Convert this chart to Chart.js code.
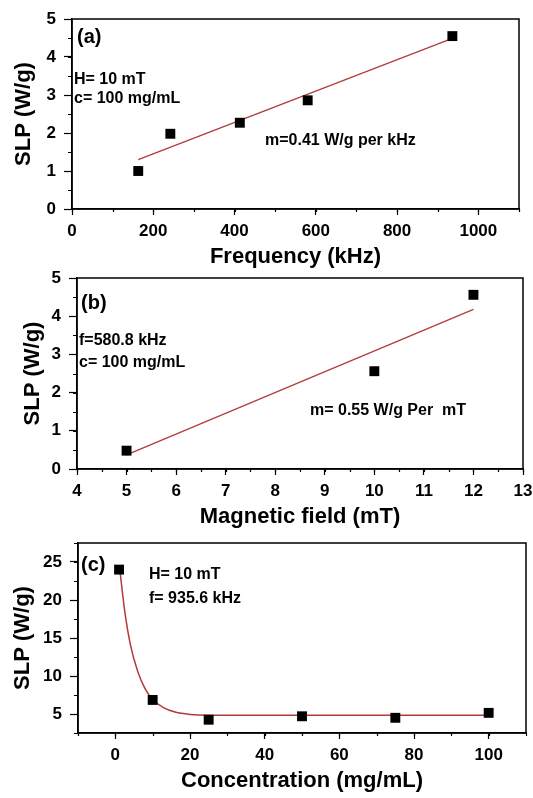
<!DOCTYPE html>
<html>
<head>
<meta charset="utf-8">
<script src="https://cdn.jsdelivr.net/npm/chart.js@4/dist/chart.umd.min.js"></script>
<style>
  html, body { margin: 0; padding: 0; background: #fff; }
  #wrap { position: relative; width: 533px; height: 798px; }
  #wrap canvas { position: absolute; left: 0; }
</style>
</head>
<body>
<div id="wrap">
  <canvas id="chartA" width="533" height="270" style="top:0px"></canvas>
  <canvas id="chartB" width="533" height="262" style="top:268px"></canvas>
  <canvas id="chartC" width="533" height="268" style="top:530px"></canvas>
</div>
<script>
// (a) SLP vs frequency
const freqKHz = [163, 242, 413, 580, 936];
const slpFreq = [1.0, 1.98, 2.27, 2.86, 4.55];
const freqFitX = [163, 936];
const freqFitY = [1.30, 4.49];
const freqTicks = [0, 200, 400, 600, 800, 1000];
const slpTicksA = [0, 1, 2, 3, 4, 5];

// (b) SLP vs magnetic field
const fieldMT = [5, 10, 12];
const slpField = [0.48, 2.56, 4.56];
const fieldFitX = [5, 12];
const fieldFitY = [0.37, 4.18];
const fieldTicks = [4, 5, 6, 7, 8, 9, 10, 11, 12, 13];
const slpTicksB = [0, 1, 2, 3, 4, 5];

// (c) SLP vs concentration
const concMgML = [1, 10, 25, 50, 75, 100];
const slpConc = [24.0, 6.85, 4.25, 4.7, 4.5, 5.15];
const concFitX = [1.2, 2.5, 4, 6, 8, 10, 13, 16, 20, 25, 40, 100];
const concFitY = [24.0, 18.6, 14.2, 10.6, 8.3, 6.9, 5.8, 5.25, 4.95, 4.85, 4.85, 4.85];
const concTicks = [0, 20, 40, 60, 80, 100];
const slpTicksC = [5, 10, 15, 20, 25];

Chart.defaults.font.family = '"Liberation Sans", Arial, sans-serif';
Chart.defaults.color = '#000';

const FIT_RED = '#b23a3a';
const TXT = 'bold 16px "Liberation Sans", Arial, sans-serif';

// frame, minor ticks and in-plot labels
const panelDecor = {
  id: 'panelDecor',
  afterDraw(chart, args, opts) {
    const { ctx, chartArea: a, scales: { x, y } } = chart;
    ctx.save();
    ctx.strokeStyle = '#000';
    ctx.lineWidth = 1.5;
    ctx.strokeRect(a.left, a.top, a.right - a.left, a.bottom - a.top);

    ctx.lineWidth = 1.2;
    ctx.beginPath();
    for (let v = Math.ceil(x.min / opts.xMinor) * opts.xMinor; v <= x.max + 1e-9; v += opts.xMinor) {
      const px = Math.round(x.getPixelForValue(v)) + 0.5;
      ctx.moveTo(px, a.bottom);
      ctx.lineTo(px, a.bottom + 3);
    }
    for (let v = Math.ceil(y.min / opts.yMinor) * opts.yMinor; v <= y.max + 1e-9; v += opts.yMinor) {
      const py = Math.round(y.getPixelForValue(v)) + 0.5;
      ctx.moveTo(a.left, py);
      ctx.lineTo(a.left - 4, py);
    }
    ctx.stroke();

    ctx.fillStyle = '#000';
    ctx.textBaseline = 'alphabetic';
    ctx.textAlign = 'left';
    opts.notes.forEach(n => {
      ctx.font = n.font || TXT;
      ctx.fillText(n.text, n.x, n.y);
    });
    ctx.restore();
  }
};

function toPoints(xs, ys) {
  return xs.map((v, i) => ({ x: v, y: ys[i] }));
}

function makePanel(id, p) {
  const ctx = document.getElementById(id).getContext('2d');
  return new Chart(ctx, {
    type: 'scatter',
    data: {
      datasets: [
        {
          data: toPoints(p.xs, p.ys),
          pointStyle: 'rect',
          pointRadius: 7,
          backgroundColor: '#000',
          borderColor: '#000',
          borderWidth: 0,
          showLine: false
        },
        {
          data: toPoints(p.fitX, p.fitY),
          showLine: true,
          pointRadius: 0,
          borderColor: FIT_RED,
          borderWidth: p.fitWidth || 1.2,
          cubicInterpolationMode: p.smooth ? 'monotone' : 'default',
          fill: false
        }
      ]
    },
    options: {
      responsive: false,
      animation: false,
      events: [],
      layout: { padding: p.pad },
      plugins: {
        legend: { display: false },
        tooltip: { enabled: false },
        panelDecor: { xMinor: p.xMinor, yMinor: p.yMinor, notes: p.notes }
      },
      scales: {
        x: {
          type: 'linear',
          min: p.xMin,
          max: p.xMax,
          afterBuildTicks: s => { s.ticks = p.xTicks.map(v => ({ value: v })); },
          afterFit: s => { s.height = p.xHeight; s.paddingLeft = 0; s.paddingRight = 0; },
          ticks: { font: { size: 17, weight: 'bold' }, padding: 6, maxRotation: 0, autoSkip: false, callback: v => String(v) },
          grid: { display: true, drawOnChartArea: false, drawTicks: true, tickLength: 6, color: '#000', tickWidth: 1.2 },
          border: { color: '#000', width: 1.5 },
          title: { display: true, text: p.xTitle, font: { size: 22, weight: 'bold' }, padding: { top: 0, bottom: p.xTitlePad } }
        },
        y: {
          type: 'linear',
          min: p.yMin,
          max: p.yMax,
          afterBuildTicks: s => { s.ticks = p.yTicks.map(v => ({ value: v })); },
          afterFit: s => { s.width = p.yWidth; s.paddingTop = 0; s.paddingBottom = 0; },
          ticks: { font: { size: 17, weight: 'bold' }, padding: 8, callback: v => String(v) },
          grid: { display: true, drawOnChartArea: false, drawTicks: true, tickLength: 8, color: '#000', tickWidth: 1.2 },
          border: { color: '#000', width: 1.5 },
          title: { display: true, text: 'SLP (W/g)', font: { size: 22, weight: 'bold' }, padding: { top: p.yTitlePad, bottom: 0 } }
        }
      }
    },
    plugins: [panelDecor]
  });
}

makePanel('chartA', {
  xs: freqKHz, ys: slpFreq, fitX: freqFitX, fitY: freqFitY,
  xMin: 0, xMax: 1100, yMin: 0, yMax: 5,
  xTicks: freqTicks, yTicks: slpTicksA, xMinor: 100, yMinor: 0.5,
  xTitle: 'Frequency (kHz)',
  pad: { top: 19, right: 14, left: 0, bottom: 0 },
  yWidth: 72, xHeight: 61, xTitlePad: 0, yTitlePad: 11,
  notes: [
    { text: '(a)', x: 77, y: 43, font: 'bold 20px "Liberation Sans", Arial, sans-serif' },
    { text: 'H= 10 mT', x: 74, y: 84 },
    { text: 'c= 100 mg/mL', x: 74, y: 103 },
    { text: 'm=0.41 W/g per kHz', x: 265, y: 145 }
  ]
});

makePanel('chartB', {
  xs: fieldMT, ys: slpField, fitX: fieldFitX, fitY: fieldFitY,
  xMin: 4, xMax: 13, yMin: 0, yMax: 5,
  xTicks: fieldTicks, yTicks: slpTicksB, xMinor: 0.5, yMinor: 0.5,
  xTitle: 'Magnetic field (mT)',
  pad: { top: 10, right: 10, left: 0, bottom: 0 },
  yWidth: 77, xHeight: 61, xTitlePad: 0, yTitlePad: 20,
  notes: [
    { text: '(b)', x: 81, y: 41, font: 'bold 20px "Liberation Sans", Arial, sans-serif' },
    { text: 'f=580.8 kHz', x: 79, y: 77 },
    { text: 'c= 100 mg/mL', x: 79, y: 99 },
    { text: 'm= 0.55 W/g Per  mT', x: 310, y: 147 }
  ]
});

makePanel('chartC', {
  xs: concMgML, ys: slpConc, fitX: concFitX, fitY: concFitY, smooth: true, fitWidth: 1.5,
  xMin: -10, xMax: 110, yMin: 2.5, yMax: 27.5,
  xTicks: concTicks, yTicks: slpTicksC, xMinor: 10, yMinor: 2.5,
  xTitle: 'Concentration (mg/mL)',
  pad: { top: 13, right: 7, left: 0, bottom: 0 },
  yWidth: 78, xHeight: 65, xTitlePad: 4, yTitlePad: 10,
  notes: [
    { text: '(c)', x: 81, y: 41, font: 'bold 20px "Liberation Sans", Arial, sans-serif' },
    { text: 'H= 10 mT', x: 149, y: 49 },
    { text: 'f= 935.6 kHz', x: 149, y: 73 }
  ]
});
</script>
</body>
</html>
